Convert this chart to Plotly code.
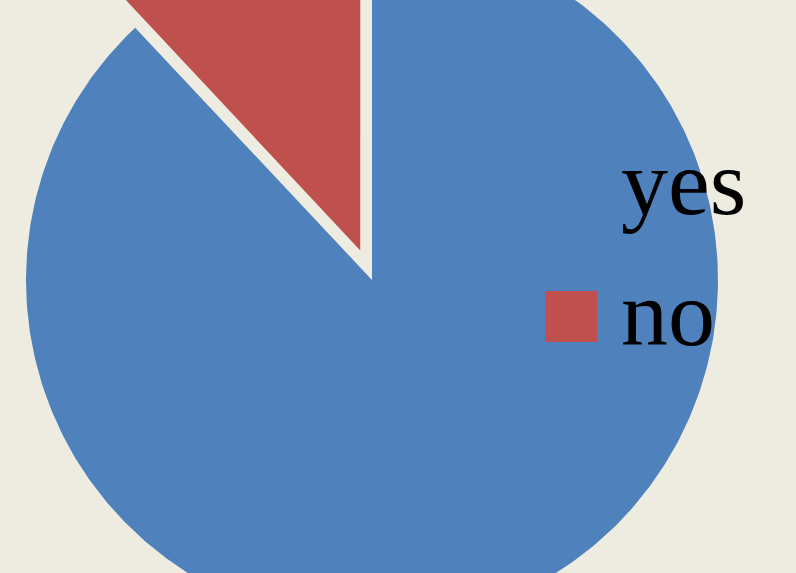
import numpy as np
import plotly.graph_objects as go

# Data
labels = ["yes", "no"]
values = [88, 12]
colors = ["#4F81BD", "#C0504D"]
pulls = [0.0, 0.092]

W, H = 796, 573
BG = "#EEECE1"

# Pie geometry (pixels): center and radius, used to set the axes scale
CX, CY, R = 372.0, 280.0, 346.0

fig = go.Figure()
total = float(sum(values))
start = 90.0
for lab, v, c, p in zip(labels, values, colors, pulls):
    span = 360.0 * v / total
    th = np.deg2rad(np.linspace(start, start - span, 500))
    mid = np.deg2rad(start - span / 2.0)
    ox, oy = p * np.cos(mid), p * np.sin(mid)
    xs = np.concatenate([[ox], ox + np.cos(th), [ox]])
    ys = np.concatenate([[oy], oy + np.sin(th), [oy]])
    fig.add_trace(go.Scatter(
        x=xs, y=ys, fill="toself", fillcolor=c, mode="lines",
        line=dict(width=0, color=c), name=lab, showlegend=False,
        hoverinfo="name",
    ))
    start -= span

# Manual legend (large serif text with square keys)
annotations = []
shapes = []
for i, (lab, c) in enumerate(zip(labels, colors)):
    ty = 182 + 131 * i
    annotations.append(dict(
        x=619 / W, y=1 - ty / H, xref="paper", yref="paper",
        text=lab, showarrow=False, xanchor="left", yanchor="middle",
        font=dict(family="Liberation Serif, Times New Roman, serif", size=94, color="black"),
    ))
    sy0 = 160 + 131 * i
    shapes.append(dict(
        type="rect", xref="paper", yref="paper",
        x0=545 / W, x1=597 / W, y0=1 - (sy0 + 51) / H, y1=1 - sy0 / H,
        fillcolor=c, line=dict(width=0),
    ))

fig.update_layout(
    width=W, height=H,
    margin=dict(l=0, r=0, t=0, b=0),
    paper_bgcolor=BG, plot_bgcolor=BG,
    showlegend=False,
    xaxis=dict(range=[-CX / R, (W - CX) / R], visible=False, fixedrange=True),
    yaxis=dict(range=[-(H - CY) / R, CY / R], visible=False, fixedrange=True),
    annotations=annotations,
    shapes=shapes,
)

fig.write_html(
    "out.html",
    config={"displayModeBar": False},
    post_script="document.body.style.margin='0';document.body.style.overflow='hidden';",
)
